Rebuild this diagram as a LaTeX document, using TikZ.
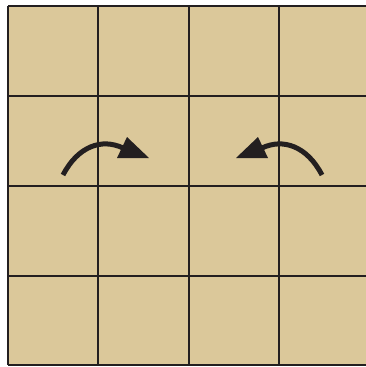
\documentclass[tikz,border=0pt]{standalone}
\definecolor{tan}{RGB}{219,200,154}
\definecolor{ink}{RGB}{35,31,32}
\begin{document}
\begin{tikzpicture}[x=1pt,y=-1pt,
  gridline/.style={draw=ink,line width=2.8pt},
  curvearrow/.style={draw=ink,line width=5pt},
  arrowhead/.style={fill=ink}]
\useasboundingbox (0,0) rectangle (366,367);
\begin{scope}
\clip (0,0) rectangle (366,367);
\fill[tan] (8,6) rectangle (369,365);
\foreach \x in {8,98,189,279,369} \draw[gridline] (\x,6) -- (\x,365);
\foreach \y in {6,96,186,276,365} \draw[gridline] (8,\y) -- (369,\y);
\end{scope}
% left arrow
\coordinate (lt) at (63,175);
\coordinate (lb) at (123,148);
\draw[curvearrow] (lt) .. controls (78,146) and (102,138) .. (lb);
\fill[arrowhead] (127,137) -- (149,158) -- (117,158) -- cycle;
% right arrow
\coordinate (rt) at (322,175);
\coordinate (rb) at (262,148);
\draw[curvearrow] (rt) .. controls (307,146) and (283,138) .. (rb);
\fill[arrowhead] (258,137) -- (236,158) -- (268,158) -- cycle;
\end{tikzpicture}
\end{document}
